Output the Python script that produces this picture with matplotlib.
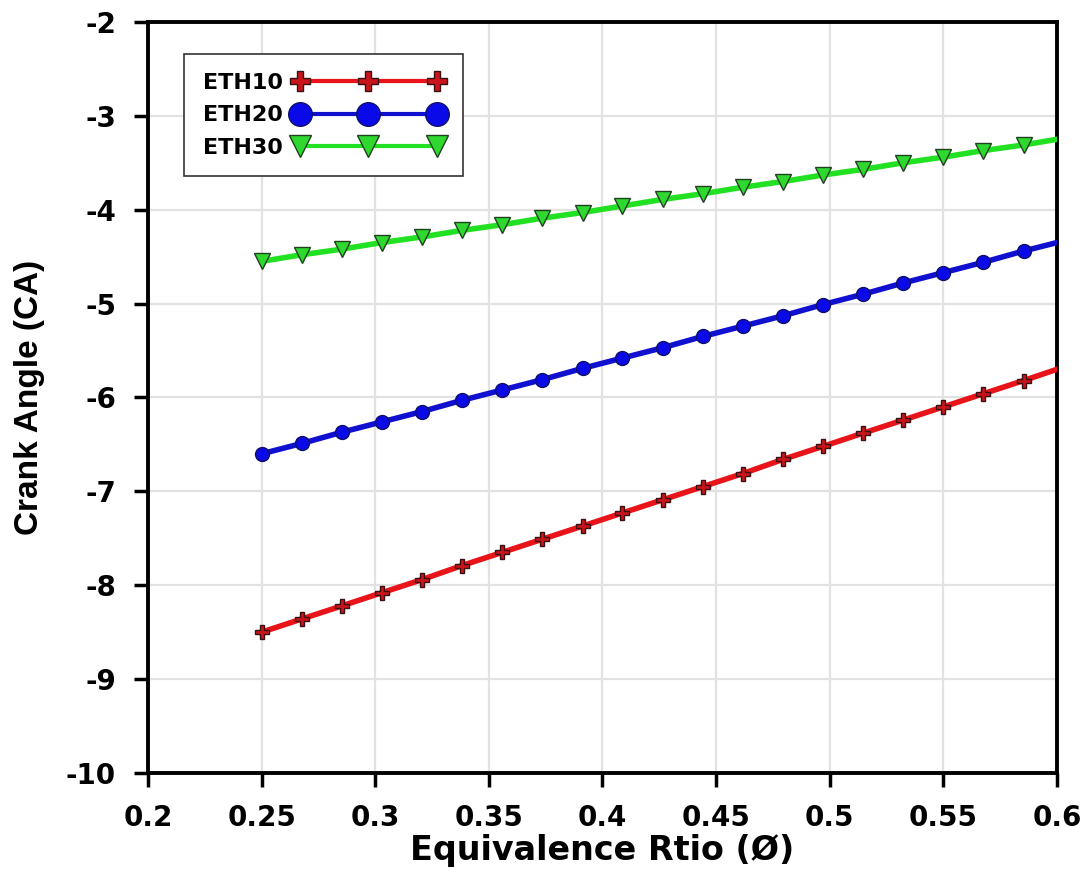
import matplotlib
matplotlib.use('Agg')
import matplotlib.pyplot as plt
import numpy as np

plt.rcParams['font.family'] = ['DejaVu Sans']
plt.rcParams['font.weight'] = 'bold'

# equivalence ratio (marker positions, last value is the line end at 0.6)
phi = [0.25, 0.2676, 0.2853, 0.3029, 0.3206, 0.3382, 0.3559, 0.3735, 0.3912, 0.4088,
       0.4265, 0.4441, 0.4618, 0.4794, 0.4971, 0.5147, 0.5324, 0.55, 0.5676, 0.5853, 0.6]

eth10 = [-8.50, -8.36, -8.22, -8.08, -7.94, -7.79, -7.65, -7.51, -7.37, -7.23,
         -7.09, -6.95, -6.81, -6.66, -6.52, -6.38, -6.24, -6.10, -5.96, -5.82, -5.70]
eth20 = [-6.60, -6.49, -6.37, -6.26, -6.15, -6.03, -5.92, -5.81, -5.69, -5.58,
         -5.47, -5.35, -5.24, -5.13, -5.01, -4.90, -4.78, -4.67, -4.56, -4.44, -4.35]
eth30 = [-4.55, -4.48, -4.42, -4.35, -4.29, -4.22, -4.16, -4.09, -4.03, -3.96,
         -3.89, -3.83, -3.76, -3.70, -3.63, -3.57, -3.50, -3.44, -3.37, -3.31, -3.25]

labels = ['ETH10', 'ETH20', 'ETH30']
xticks = [0.2, 0.25, 0.3, 0.35, 0.4, 0.45, 0.5, 0.55, 0.6]
xticklabels = ['0.2', '0.25', '0.3', '0.35', '0.4', '0.45', '0.5', '0.55', '0.6']
yticks = [-10, -9, -8, -7, -6, -5, -4, -3, -2]

fig = plt.figure(figsize=(10.9, 8.75), dpi=100)
ax = fig.add_axes([0.1358, 0.1166, 0.9697 - 0.1358, 0.9749 - 0.1166])

n = len(phi) - 1
ax.plot(phi, eth10, color='#e8141a', lw=4, marker='P', ms=10, mfc='#c8141a',
        mec='#3a1010', mew=1.0, markevery=range(n), label=labels[0], zorder=3)
ax.plot(phi, eth20, color='#1010d0', lw=4, marker='o', ms=10, mfc='#0a0ae8',
        mec='#10106a', mew=1.0, markevery=range(n), label=labels[1], zorder=3)
ax.plot(phi, eth30, color='#22e022', lw=4, marker='v', ms=11, mfc='#2ed82e',
        mec='#204020', mew=1.0, markevery=range(n), label=labels[2], zorder=3)

ax.set_xlim(0.2, 0.6)
ax.set_ylim(-10, -2)
ax.set_xticks(xticks)
ax.set_xticklabels(xticklabels)
ax.set_yticks(yticks)
ax.set_yticklabels([str(v) for v in yticks])
ax.grid(True, color='#e2e2e2', lw=1.6, zorder=0)
ax.set_axisbelow(True)

for s in ax.spines.values():
    s.set_linewidth(2.8)
ax.tick_params(direction='out', length=10, width=2.5, labelsize=20)
ax.tick_params(axis='x', pad=12)
ax.tick_params(axis='y', pad=13)
for t in ax.get_xticklabels() + ax.get_yticklabels():
    t.set_fontweight('bold')

ax.set_xlabel('Equivalence Rtio (Ø)', fontsize=24, fontweight='bold', labelpad=2)
ax.set_ylabel('Crank Angle (CA)', fontsize=24, fontweight='bold', labelpad=15,
              family=['Liberation Sans', 'DejaVu Sans'])

leg = ax.legend(loc='upper left', bbox_to_anchor=(0.0396, 0.957), borderaxespad=0,
                numpoints=3, markerfirst=False, fancybox=False, framealpha=1,
                edgecolor='#333333', prop={'size': 16, 'weight': 'bold'},
                handlelength=6.8, borderpad=0.85, labelspacing=0.55, handletextpad=0.45)
leg.get_frame().set_linewidth(1.2)
for h, size in zip(leg.legend_handles, [14, 17, 16]):
    h.set_markersize(size)
    h.set_linewidth(3)

fig.savefig('out.png', dpi=100)
